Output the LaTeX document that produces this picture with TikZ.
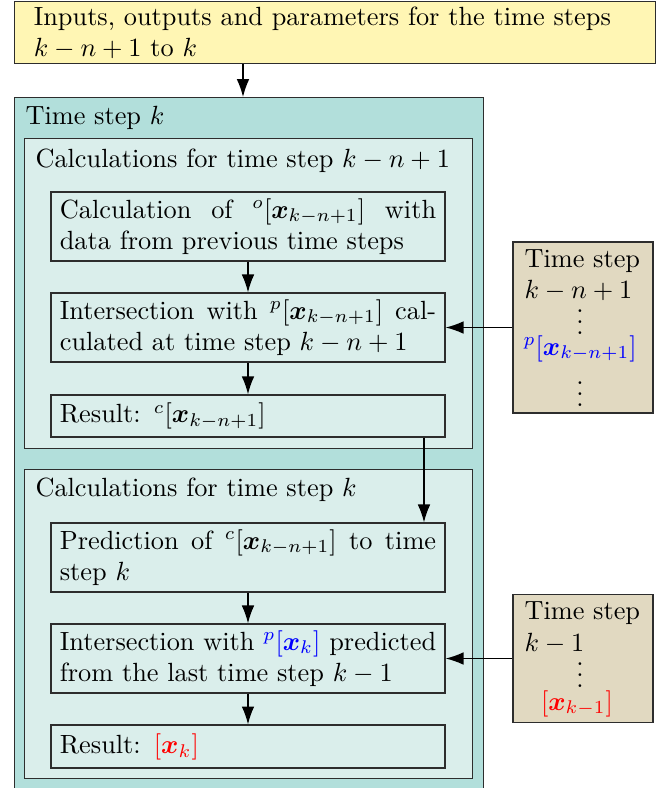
\documentclass[tikz,border=0pt]{standalone}
\usepackage{amsmath}
\usetikzlibrary{arrows.meta}

\definecolor{inputyellow}{RGB}{255,246,180}
\definecolor{stepteal}{RGB}{178,223,219}
\definecolor{calcmint}{RGB}{218,238,235}
\definecolor{pasttan}{RGB}{225,217,193}
\definecolor{edgegray}{RGB}{45,45,45}

\newcommand{\xv}{\boldsymbol{x}}
% vertical dots without the leading kern of \vdots
\newcommand{\dotcol}{\vbox{\baselineskip4pt\lineskiplimit0pt\hbox{.}\hbox{.}\hbox{.}}}

\tikzset{
  frame/.style={draw=edgegray, line width=0.5pt, rectangle, inner sep=0pt, anchor=north west},
  taskbox/.style={draw=edgegray, fill=calcmint, rectangle, line width=0.5pt,
    minimum width=149.7pt, text width=143pt, inner xsep=3.35pt, inner ysep=0pt,
    align=justify},
  pastbox/.style={draw=edgegray, fill=pasttan, rectangle, line width=0.5pt,
    minimum width=53.2pt, inner sep=0pt},
  flow/.style={-{Latex[length=6.8pt,width=4.8pt]}, line width=0.5pt},
  title/.style={anchor=base west, inner sep=0pt},
  entry/.style={anchor=base west, inner sep=0pt},
  dots/.style={anchor=base, inner sep=0pt},
}

\begin{document}
\begin{tikzpicture}[x=0.38pt,y=-0.38pt]
\clip (0,0) rectangle (664,788);

% inputs for the window of time steps
\node[draw=edgegray, fill=inputyellow, line width=0.5pt, anchor=north west,
  minimum width=243.6pt, minimum height=23.7pt, text width=229pt, align=left,
  inner xsep=7.3pt, inner ysep=0pt] (inputs) at (14,0.8)
  {Inputs, outputs and parameters for the time steps\\ $k-n+1$ to $k$};

% time step k with its two groups of calculations
\node[frame, fill=stepteal, minimum width=178.2pt, minimum height=270pt] (step) at (14,97) {};
\node[title] (steptitle) at (25,124) {Time step $k$};

\node[frame, fill=calcmint, minimum width=170.2pt, minimum height=117.8pt] (calcA) at (24,138) {};
\node[title] (calcAtitle) at (35,167) {Calculations for time step $k-n+1$};

\node[frame, fill=calcmint, minimum width=170.2pt, minimum height=117.4pt] (calcB) at (24,469) {};
\node[title] (calcBtitle) at (35,496) {Calculations for time step $k$};

\node[taskbox, minimum height=26.2pt] (outer) at (248,226.5)
  {Calculation of ${}^{o}[\xv_{k-n+1}]$ with\linebreak data from previous time steps};
\node[taskbox, minimum height=26.2pt] (isectA) at (248,327.5)
  {Intersection with ${}^{p}[\xv_{k-n+1}]$ cal-\linebreak culated at time step $k-n+1$};
\node[taskbox, minimum height=16pt, align=left] (resA) at (248,416)
  {Result: ${}^{c}[\xv_{k-n+1}]$};

\node[taskbox, minimum height=26.2pt] (predict) at (248,557.5)
  {Prediction of ${}^{c}[\xv_{k-n+1}]$ to time\linebreak step $k$};
\node[taskbox, minimum height=26.2pt] (isectB) at (248,658.5)
  {Intersection with \textcolor{blue}{${}^{p}[\xv_{k}]$} predicted\linebreak from the last time step $k-1$};
\node[taskbox, minimum height=16.3pt, align=left] (resB) at (248,746.5)
  {Result: \textcolor{red}{$[\xv_{k}]$}};

% stored data from earlier time steps
\node[pastbox, minimum height=65pt] (past1) at (583,327.5) {};
\node[entry] (past1a) at (524,267) {Time step};
\node[entry] (past1b) at (524,298) {$k-n+1$};
\node[dots]  (past1c) at (580,334) {\dotcol};
\node[entry] (past1d) at (523,355) {\textcolor{blue}{${}^{p}[\xv_{k-n+1}]$}};
\node[dots]  (past1e) at (580,406) {\dotcol};

\node[pastbox, minimum height=48.6pt] (past2) at (583,658.5) {};
\node[entry] (past2a) at (524,619) {Time step};
\node[entry] (past2b) at (524,651) {$k-1$};
\node[dots]  (past2c) at (580,687) {\dotcol};
\node[dots]  (past2d) at (577,710) {\textcolor{red}{$[\xv_{k-1}]$}};

% connectors
\coordinate (entrypt) at (243,0);
\coordinate (handover) at (424,0);
\draw[flow] (inputs.south -| entrypt) -- (step.north -| entrypt);
\draw[flow] (outer) -- (isectA);
\draw[flow] (isectA) -- (resA);
\draw[flow] (resA.south -| handover) -- (predict.north -| handover);
\draw[flow] (predict) -- (isectB);
\draw[flow] (isectB) -- (resB);
\draw[flow] (past1.west) -- (isectA.east);
\draw[flow] (past2.west) -- (isectB.east);
\end{tikzpicture}
\end{document}
